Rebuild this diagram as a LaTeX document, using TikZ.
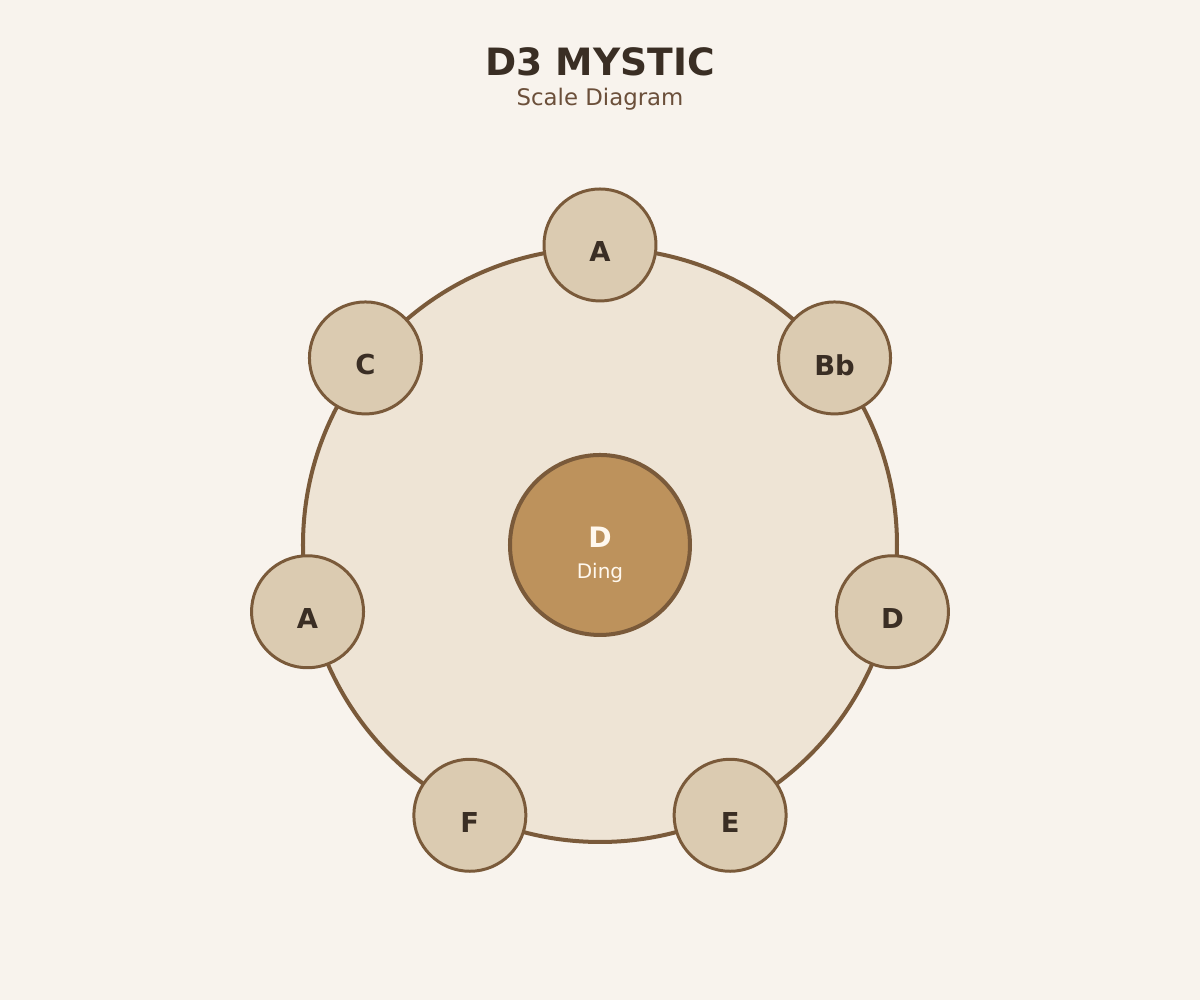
\documentclass[tikz,border=0pt]{standalone}
\usepackage{fontspec}
\setmainfont{DejaVu Sans}
\usepackage{tikz}
\usetikzlibrary{positioning}
\usepackage{xcolor}
\definecolor{bgpaper}{HTML}{F8F3ED}
\definecolor{ringfill}{HTML}{EEE4D5}
\definecolor{brownline}{HTML}{7A5A3A}
\definecolor{notefill}{HTML}{DBCBB1}
\definecolor{dingfill}{HTML}{BD925C}
\definecolor{darktext}{HTML}{3A2E24}
\definecolor{subtext}{HTML}{6B4F3A}
\definecolor{dingtext}{HTML}{FFF8EE}

\begin{document}
\begin{tikzpicture}
% Define styles
\tikzstyle{ring} = [circle, draw=brownline, fill=ringfill, line width=1.14pt, minimum size=5.94cm, inner sep=0pt]
\tikzstyle{ding} = [circle, draw=brownline, fill=dingfill, line width=1.14pt, minimum size=1.8cm, inner sep=0pt]
\tikzstyle{note} = [circle, draw=brownline, fill=notefill, line width=0.85pt, minimum size=1.12cm, inner sep=0pt]
\tikzstyle{notetext} = [inner sep=0pt, text=darktext, font=\fontsize{7.8pt}{9pt}\selectfont\bfseries]
\tikzstyle{title} = [inner sep=0pt, text=darktext, font=\fontsize{10.7pt}{12pt}\selectfont\bfseries]
\tikzstyle{subtitle} = [inner sep=0pt, text=subtext, font=\fontsize{6.5pt}{8pt}\selectfont]
% Background and page size
\fill[bgpaper] (-6,-4.55) rectangle (6,5.45);
\useasboundingbox (-6,-4.55) rectangle (6,5.45);
% Title
\node[title] (Title) at (0,4.83) {D3 MYSTIC};
\node[subtitle, below of=Title, node distance=0.37cm] (Subtitle) {Scale Diagram};
% Define body and ding
\node[ring] (Body) at (0,0) {};
\node[ding] (Ding) at (0,0) {};
\node[inner sep=0pt, text=dingtext, font=\fontsize{8pt}{9pt}\selectfont\bfseries] (DingNote) at ([yshift=0.075cm]Ding.center) {D};
\node[inner sep=0pt, text=dingtext, font=\fontsize{5.7pt}{7pt}\selectfont] (DingName) at ([yshift=-0.275cm]Ding.center) {Ding};
% Define tone fields
\node[note] (NoteA) at (90:3) {};
\node[note] (NoteBb) at (38.57:3) {};
\node[note] (NoteD) at (-12.86:3) {};
\node[note] (NoteE) at (-64.29:3) {};
\node[note] (NoteF) at (-115.71:3) {};
\node[note] (NoteLowA) at (-167.14:3) {};
\node[note] (NoteC) at (141.43:3) {};
% Tone field labels
\node[notetext] (LabelA) at ([yshift=-0.07cm]NoteA.center) {A};
\node[notetext] (LabelBb) at ([yshift=-0.07cm]NoteBb.center) {Bb};
\node[notetext] (LabelD) at ([yshift=-0.07cm]NoteD.center) {D};
\node[notetext] (LabelE) at ([yshift=-0.07cm]NoteE.center) {E};
\node[notetext] (LabelF) at ([yshift=-0.07cm]NoteF.center) {F};
\node[notetext] (LabelLowA) at ([yshift=-0.07cm]NoteLowA.center) {A};
\node[notetext] (LabelC) at ([yshift=-0.07cm]NoteC.center) {C};
\end{tikzpicture}
\end{document}
